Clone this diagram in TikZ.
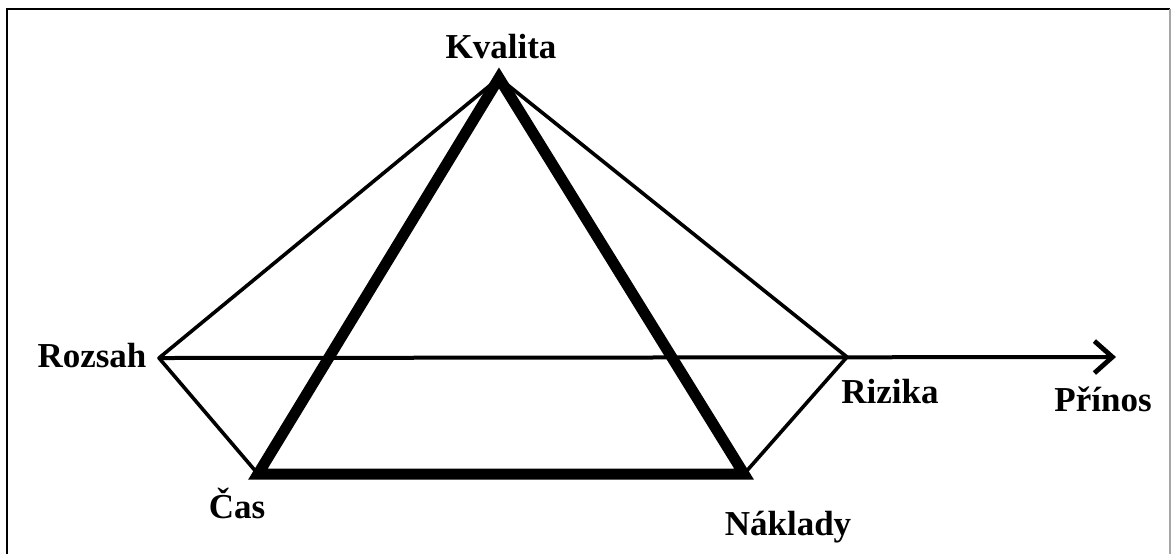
\documentclass[tikz,border=0pt]{standalone}
\usepackage{fontspec}
\setmainfont{Liberation Serif}
\usetikzlibrary{arrows.meta}

\begin{document}
\begin{tikzpicture}[x=0.5pt,y=-0.5pt,
		thin edge/.style={line width=1.8pt},
		thick edge/.style={line width=5.5pt,line join=miter},
		label/.style={font=\fontsize{17.5}{20}\selectfont\bfseries,anchor=base,inner sep=0pt}]
				\useasboundingbox (0,0) rectangle (1171,554);
				% frame
				\draw[line width=1pt] (7,554)--(7,9)--(1170,9);
				\draw[line width=1pt,gray!70] (1170,9)--(1170,554);
				% corners
				\coordinate (K) at (499,78);
				\coordinate (R) at (159,358);
				\coordinate (Z) at (847,357);
				\coordinate (C) at (258,474);
				\coordinate (N) at (744,474);
				\coordinate (P) at (1116,357);
				% thin lines
				\draw[thin edge,line join=round] (C)--(R)--(K)--(Z)--(N);
				\draw[line width=2pt,-{Straight Barb[length=9pt,width=16pt,line width=2.4pt]}] (R)--(P);
				% thick triangle
				\draw[thick edge] (C)--(K)--(N)--cycle;
				% labels
				\node[label] (kvalita) at (501,58) {Kvalita};
				\node[label] (rozsah) at (92,367) {Rozsah};
				\node[label] (rizika) at (890,403) {Rizika};
				\node[label] (prinos) at (1103,411) {Přínos};
				\node[label] (cas) at (237,518) {Čas};
				\node[label] (naklady) at (788,535) {Náklady};
			\end{tikzpicture}
\end{document}
